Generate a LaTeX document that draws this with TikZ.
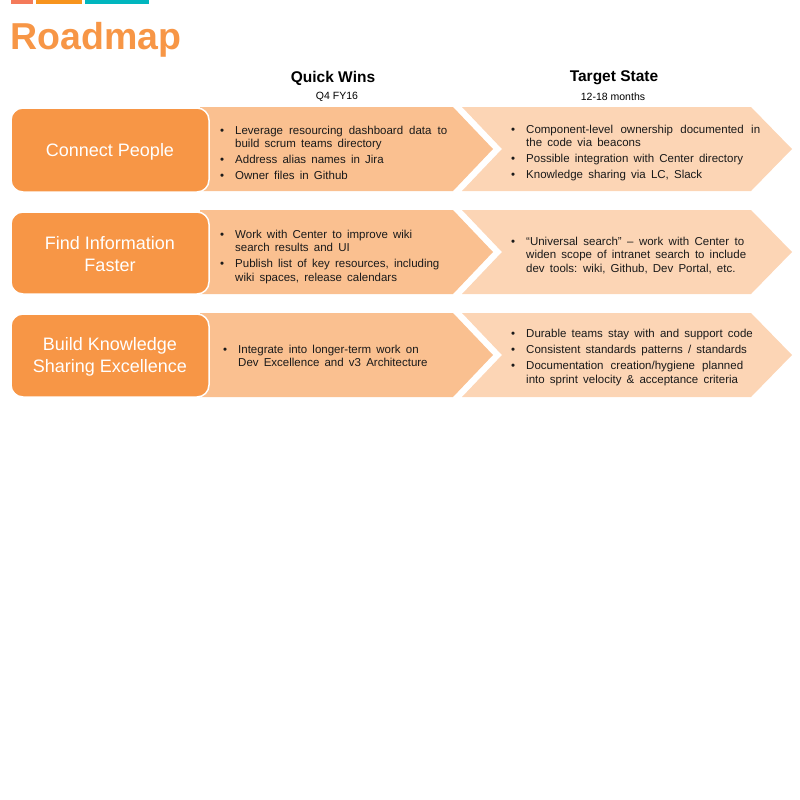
\documentclass[tikz,border=0pt]{standalone}
\usepackage{fontspec}
\setmainfont{Liberation Sans}
\definecolor{accent}{HTML}{F79646}
\definecolor{chevA}{HTML}{FAC090}
\definecolor{chevB}{HTML}{FCD5B5}
\definecolor{barA}{HTML}{F47A5A}
\definecolor{barB}{HTML}{F7941D}
\definecolor{barC}{HTML}{00B6BE}
\definecolor{ink}{HTML}{1A1A1A}
\newcommand\bul[1]{\par\spaceskip=0.45em plus 0.4em minus 0.12em\relax\noindent\hangindent=15pt\hangafter=1\hbox to 15pt{\textbullet\hfil}#1\par}
\newcommand\jl[2]{\hbox to #1{#2}}
\newcommand\bodyset{\fontsize{11.5}{13.5}\selectfont\parskip=2.5pt\relax}
\tikzset{
  leftbox/.style={fill=accent, draw=white, line width=1.5pt, rounded corners=12pt},
  lefttext/.style={text=white, align=center, inner sep=0pt, font=\fontsize{18}{22}\selectfont},
  body/.style={anchor=west, inner sep=0pt, text width=#1, align=left, text=ink, font=\bodyset},
  head/.style={inner sep=0pt, text=black, font=\bfseries\fontsize{15.5}{18}\selectfont},
  sub/.style={inner sep=0pt, text=black, font=\fontsize{10.5}{12}\selectfont},
}
\begin{document}
\begin{tikzpicture}[x=1pt,y=-1pt]
\useasboundingbox (0,0) rectangle (800,800);
% top bars
\fill[barA] (11,0) rectangle (33,4);
\fill[barB] (36,0) rectangle (82,4);
\fill[barC] (85,0) rectangle (149,4);
% title
\node[anchor=base west, inner sep=0pt, text=accent, font=\bfseries\fontsize{37.5}{40}\selectfont] (title) at (10.5,50) {Roadmap};
% headers
\node[head] (qw) at (333,78) {Quick Wins};
\node[sub] (qwsub) at (337,97) {Q4 FY16};
\node[head] (ts) at (614,78) {Target State};
\node[sub] (tssub) at (613,97) {12-18 months};
% chevrons
\foreach \t in {107,210,313}{
  \fill[chevB] (462,\t) -- (751,\t) -- (792,\t+42) -- (751,\t+84) -- (462,\t+84) -- (502,\t+42) -- cycle;
  \fill[chevA] (200,\t) -- (453,\t) -- (493,\t+42) -- (453,\t+84) -- (200,\t+84) -- cycle;
}
% left boxes
\draw[leftbox] (11,108) rectangle (209,192);
\draw[leftbox] (11,212) rectangle (209,294);
\draw[leftbox] (11,314) rectangle (209,397);
\node[lefttext] (cp) at (110,152) {Connect People};
\node[lefttext] (fi) at (110,254) {Find Information\\Faster};
\node[lefttext] (bk) at (110,357) {Build Knowledge\\Sharing Excellence};
% row 1
\node[body=240pt] (r1a) at (220,149) {%
\bul{\jl{212pt}{Leverage resourcing dashboard data to}\newline build scrum teams directory}
\bul{Address alias names in Jira}
\bul{Owner files in Github}};
\node[body=260pt] (r1b) at (511,149) {%
\bul{\jl{234pt}{Component-level ownership documented in}\newline the code via beacons}
\bul{Possible integration with Center directory}
\bul{Knowledge sharing via LC, Slack}};
% row 2
\node[body=240pt] (r2a) at (220,253) {%
\bul{Work with Center to improve wiki\newline search results and UI}
\bul{Publish list of key resources, including\newline wiki spaces, release calendars}};
\node[body=260pt] (r2b) at (511,251.5) {%
\bul{\jl{218pt}{“Universal search” – work with Center to}\newline \jl{220pt}{widen scope of intranet search to include}\newline dev tools: wiki, Github, Dev Portal, etc.}};
% row 3
\node[body=240pt] (r3a) at (223,352) {%
\bul{Integrate into longer-term work on\newline Dev Excellence and v3 Architecture}};
\node[body=260pt] (r3b) at (511,353.5) {%
\bul{Durable teams stay with and support code}
\bul{Consistent standards patterns / standards}
\bul{\jl{217pt}{Documentation creation/hygiene planned}\newline into sprint velocity \& acceptance criteria}};
\end{tikzpicture}
\end{document}
